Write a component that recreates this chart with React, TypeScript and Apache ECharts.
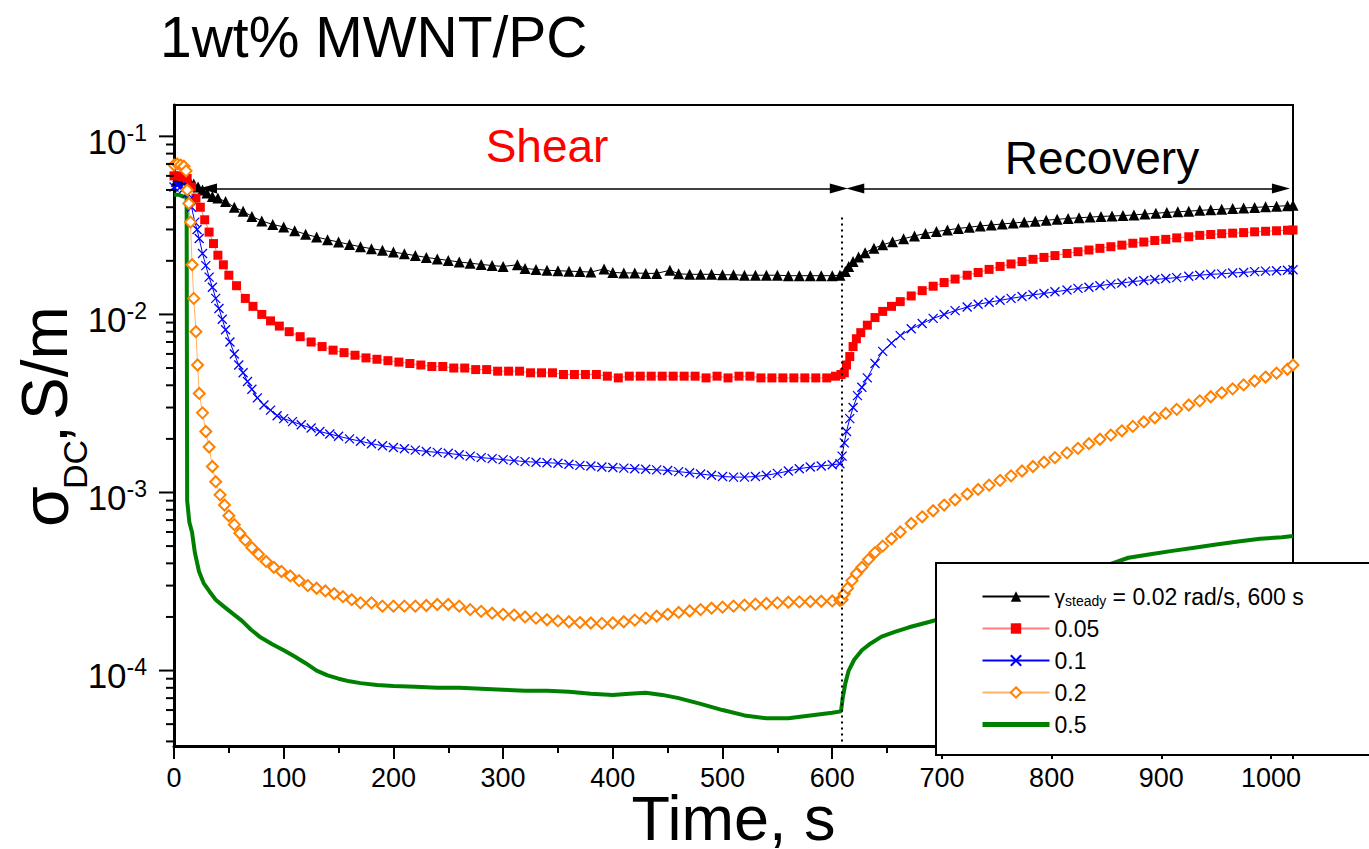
import React, { useEffect, useRef } from 'react';
import * as echarts from 'echarts';

const FONT = '"Liberation Sans", Arial, Helvetica, sans-serif';

const seriesNames = ['0.02', '0.05', '0.1', '0.2', '0.5'];

// [time s, sigma S/m]
const blackStartArtifact: number[][] = [[0.3, 0.000001], [0.8, 0.0186]];
const black: number[][] = [
  [2, 0.056], [5, 0.057], [8, 0.058], [11, 0.057], [14, 0.056], [18, 0.054], [22, 0.052], [26, 0.05],
  [30, 0.048], [35, 0.046], [40, 0.045], [47, 0.043], [55, 0.04], [63, 0.038], [71, 0.0355], [80, 0.0335], [90, 0.032], [100, 0.031],
  [110, 0.0295], [120, 0.0282], [130, 0.0272], [140, 0.0263], [150, 0.0255], [160, 0.0247], [170, 0.024], [180, 0.0234], [190, 0.0229],
  [200, 0.0224], [210, 0.0219], [220, 0.0214], [230, 0.0209], [240, 0.0205], [250, 0.0201], [260, 0.0197], [270, 0.0194], [280, 0.0191],
  [290, 0.0188], [300, 0.0186], [313, 0.019], [320, 0.0181], [330, 0.0179], [340, 0.0177], [350, 0.0176], [360, 0.0175], [370, 0.0174],
  [380, 0.0173], [392, 0.018], [400, 0.0172], [410, 0.0171], [420, 0.0171], [430, 0.017], [440, 0.017], [452, 0.0177], [460, 0.0169],
  [470, 0.0168], [480, 0.0168], [490, 0.0168], [500, 0.0167], [510, 0.0167], [520, 0.0166], [530, 0.0166], [540, 0.0166], [550, 0.0166],
  [560, 0.0165], [570, 0.0165], [580, 0.0165], [590, 0.0165], [600, 0.0165], [607, 0.0166],
  [612, 0.0174], [615, 0.0186], [619, 0.0198], [624, 0.021], [630, 0.0222], [638, 0.0235], [646, 0.0246], [655, 0.0256], [665, 0.0266],
  [675, 0.0276], [685, 0.0285], [695, 0.0292], [705, 0.0298], [715, 0.0304], [725, 0.0309], [735, 0.0314], [745, 0.0318], [755, 0.0322],
  [765, 0.0326], [775, 0.033], [785, 0.0334], [795, 0.0338], [805, 0.0342], [815, 0.0346], [825, 0.0349], [835, 0.0352], [845, 0.0355],
  [855, 0.0357], [865, 0.0359], [875, 0.0362], [885, 0.0366], [895, 0.037], [905, 0.0374], [915, 0.0377], [925, 0.038], [935, 0.0384],
  [945, 0.0387], [955, 0.039], [965, 0.0393], [975, 0.0396], [985, 0.0399], [995, 0.0402], [1005, 0.0405], [1015, 0.0408], [1020, 0.041],
];

const red: number[][] = [
  [0, 0.06], [4, 0.06], [8, 0.059], [12, 0.058], [16, 0.052], [20, 0.045], [24, 0.04], [28, 0.034], [32, 0.029], [36, 0.025], [40, 0.0215],
  [45, 0.019], [50, 0.0166], [57, 0.0145], [65, 0.0123], [72, 0.0111], [80, 0.01], [88, 0.0092], [96, 0.0086], [105, 0.008], [115, 0.0075],
  [125, 0.007], [135, 0.0066], [145, 0.0063], [155, 0.0061], [165, 0.0059], [175, 0.0057], [185, 0.0056], [195, 0.0055], [205, 0.0054],
  [215, 0.0053], [225, 0.0052], [235, 0.0051], [245, 0.0051], [255, 0.005], [265, 0.005], [275, 0.0049], [285, 0.0049], [295, 0.0048],
  [305, 0.0048], [315, 0.0048], [325, 0.0047], [335, 0.0047], [345, 0.0047], [355, 0.0046], [365, 0.0046], [375, 0.0046], [385, 0.0046],
  [395, 0.0045], [405, 0.0044], [415, 0.0045], [425, 0.0045], [435, 0.0045], [445, 0.0045], [455, 0.0045], [465, 0.0045], [475, 0.0045],
  [485, 0.0044], [495, 0.0045], [505, 0.0044], [515, 0.0045], [525, 0.0045], [535, 0.0044], [545, 0.0044], [555, 0.0044], [565, 0.0044],
  [575, 0.0044], [585, 0.0044], [595, 0.0044], [603, 0.0045], [608, 0.0046],
  [611, 0.0047], [613, 0.0052], [616, 0.0058], [619, 0.0066], [622, 0.0073], [626, 0.0079], [632, 0.0087], [639, 0.0096], [646, 0.0104],
  [654, 0.0111], [662, 0.0118], [672, 0.0127], [682, 0.0136], [692, 0.0144], [702, 0.0151], [712, 0.0158], [723, 0.0166], [733, 0.0172],
  [743, 0.0179], [753, 0.0186], [763, 0.0192], [773, 0.0198], [783, 0.0204], [793, 0.0209], [803, 0.0214], [814, 0.022], [824, 0.0225],
  [834, 0.023], [844, 0.0235], [854, 0.024], [864, 0.0245], [874, 0.0251], [884, 0.0255], [894, 0.026], [904, 0.0264], [914, 0.0269],
  [925, 0.0273], [935, 0.0278], [945, 0.0281], [955, 0.0284], [965, 0.0286], [975, 0.0288], [985, 0.0291], [995, 0.0293], [1005, 0.0295],
  [1015, 0.0297], [1020, 0.0298],
];

const blue: number[][] = [
  [0, 0.052], [3, 0.053], [6, 0.052], [9, 0.051], [12, 0.048], [14, 0.044], [16, 0.04], [19, 0.033], [21, 0.03], [23, 0.0267], [26, 0.022],
  [29, 0.0188], [32, 0.0162], [35, 0.0142], [38, 0.0123], [41, 0.0108], [44, 0.0094], [47, 0.0082], [51, 0.007], [55, 0.006], [59, 0.0052],
  [63, 0.0047], [67, 0.0042], [71, 0.0038], [76, 0.0034], [82, 0.0031], [88, 0.0029], [94, 0.0027], [100, 0.0026], [108, 0.0025],
  [116, 0.0024], [125, 0.0023], [133, 0.0022], [142, 0.00213], [150, 0.00207], [160, 0.002], [170, 0.00194], [180, 0.00188], [190, 0.00183],
  [200, 0.00179], [210, 0.00176], [220, 0.00173], [230, 0.0017], [240, 0.00168], [250, 0.00166], [260, 0.00163], [270, 0.0016],
  [280, 0.00157], [290, 0.00155], [300, 0.00153], [310, 0.00151], [320, 0.00149], [330, 0.00148], [340, 0.00147], [350, 0.00146],
  [360, 0.00144], [370, 0.00142], [380, 0.00141], [390, 0.00139], [400, 0.00138], [410, 0.00137], [420, 0.00136], [430, 0.00135],
  [440, 0.00134], [450, 0.00133], [460, 0.00131], [470, 0.00129], [480, 0.00127], [490, 0.00125], [500, 0.00123], [510, 0.00122],
  [520, 0.00122], [530, 0.00123], [540, 0.00125], [550, 0.00128], [560, 0.00132], [570, 0.00136], [580, 0.00139], [590, 0.00141],
  [600, 0.00143], [607, 0.00145],
  [609, 0.0016], [611, 0.0019], [613, 0.0022], [616, 0.0026], [619, 0.003], [623, 0.0035], [627, 0.0039], [632, 0.0044], [639, 0.0053],
  [646, 0.0062], [654, 0.0069], [662, 0.0076], [672, 0.0083], [682, 0.0089], [692, 0.0095], [702, 0.01], [712, 0.0105], [723, 0.011],
  [733, 0.0114], [743, 0.0117], [753, 0.012], [763, 0.0123], [773, 0.0126], [783, 0.0129], [793, 0.0131], [803, 0.0134], [814, 0.0137],
  [824, 0.014], [834, 0.0142], [844, 0.0145], [854, 0.0148], [864, 0.015], [874, 0.0153], [884, 0.0155], [894, 0.0157], [904, 0.0159],
  [914, 0.0161], [925, 0.0164], [935, 0.0166], [945, 0.0168], [955, 0.0169], [965, 0.0171], [975, 0.0172], [985, 0.0174], [995, 0.0175],
  [1005, 0.0176], [1015, 0.0177], [1020, 0.0178],
];

const orange: number[][] = [
  [0, 0.069], [3, 0.07], [6, 0.069], [9, 0.068], [11, 0.064], [12, 0.05], [13.5, 0.042], [15, 0.033], [16.5, 0.019], [18, 0.0123],
  [20, 0.008], [21.5, 0.0052], [23, 0.0036], [26, 0.0028], [29, 0.0022], [32, 0.0018], [35, 0.0014], [38, 0.00115], [42, 0.00097],
  [46, 0.00085], [50, 0.00074], [55, 0.00066], [60, 0.00059], [65, 0.00054], [71, 0.00049], [77, 0.00045], [84, 0.00041], [91, 0.00038],
  [98, 0.00036], [106, 0.00034], [114, 0.00032], [122, 0.0003], [130, 0.00029], [138, 0.00028], [146, 0.00027], [154, 0.00026],
  [162, 0.00025], [170, 0.00024], [180, 0.00024], [190, 0.00023], [200, 0.00023], [210, 0.00023], [220, 0.00023], [230, 0.000232],
  [240, 0.000235], [250, 0.000235], [260, 0.00023], [270, 0.00022], [280, 0.000215], [290, 0.00021], [300, 0.000207], [310, 0.000205],
  [320, 0.0002], [330, 0.000197], [340, 0.000193], [350, 0.00019], [360, 0.000188], [370, 0.000186], [380, 0.000185], [390, 0.000184],
  [400, 0.000185], [410, 0.000188], [420, 0.000192], [430, 0.000197], [440, 0.000202], [450, 0.000207], [460, 0.000212], [470, 0.000216],
  [480, 0.00022], [490, 0.000224], [500, 0.000227], [510, 0.00023], [520, 0.000233], [530, 0.000236], [540, 0.000238], [550, 0.00024],
  [560, 0.000242], [570, 0.000243], [580, 0.000244], [590, 0.000245], [600, 0.000246], [607, 0.000248],
  [609, 0.00025], [611, 0.00027], [614, 0.00029], [618, 0.00032], [622, 0.00035], [627, 0.00038], [633, 0.00042], [639, 0.00046],
  [646, 0.0005], [654, 0.00055], [662, 0.0006], [672, 0.00067], [682, 0.00073], [692, 0.00079], [702, 0.00085], [712, 0.00091],
  [723, 0.00098], [733, 0.00104], [743, 0.0011], [753, 0.00117], [763, 0.00124], [773, 0.00132], [783, 0.0014], [793, 0.00148],
  [803, 0.00157], [814, 0.00167], [824, 0.00177], [834, 0.00188], [844, 0.00199], [854, 0.0021], [864, 0.00222], [874, 0.00235],
  [884, 0.00249], [894, 0.00263], [904, 0.00278], [914, 0.00293], [925, 0.0031], [935, 0.00327], [945, 0.00345], [955, 0.00363],
  [965, 0.00382], [975, 0.00402], [985, 0.00423], [995, 0.00445], [1005, 0.00468], [1015, 0.00492], [1020, 0.0052],
];

const green: number[][] = [
  [0, 0.047], [4, 0.047], [8, 0.046], [11.5, 0.046], [12, 0.0009], [14, 0.00068], [16.4, 0.0006], [19, 0.00046], [22.8, 0.00036],
  [27, 0.00031], [32, 0.00028], [38, 0.00025], [45, 0.00023], [53, 0.00021], [62, 0.00019], [70, 0.00017], [78, 0.000155], [90, 0.00014],
  [100, 0.00013], [110, 0.00012], [120, 0.00011], [130, 0.0001], [140, 0.000094], [150, 0.00009], [160, 0.000087], [170, 0.000085],
  [185, 0.000083], [200, 0.000082], [220, 0.000081], [240, 0.00008], [260, 0.00008], [280, 0.000079], [300, 0.000078], [320, 0.000077],
  [340, 0.000077], [360, 0.000076], [380, 0.000074], [400, 0.000073], [415, 0.000074], [430, 0.000075], [445, 0.000073], [460, 0.00007],
  [480, 0.000065], [500, 0.00006], [520, 0.000056], [540, 0.000054], [560, 0.000054], [580, 0.000056], [600, 0.000058], [608, 0.000059],
  [609.5, 0.00007], [612, 0.000085], [615, 0.0001], [620, 0.000115], [627, 0.00013], [635, 0.000142], [645, 0.000155], [657, 0.000165],
  [670, 0.000175], [689, 0.000188], [710, 0.000205], [730, 0.000225], [750, 0.000245], [770, 0.00027], [790, 0.0003], [810, 0.00033],
  [830, 0.00036], [850, 0.00039], [870, 0.00043], [890, 0.00045], [910, 0.00047], [930, 0.00049], [950, 0.00051], [970, 0.00053],
  [990, 0.00055], [1010, 0.00056], [1020, 0.00057],
];

const yMajorTicks = [1e-4, 1e-3, 1e-2, 1e-1];
const yMinorTicks = [
  4e-5, 5e-5, 6e-5, 7e-5, 8e-5, 9e-5,
  2e-4, 3e-4, 4e-4, 5e-4, 6e-4, 7e-4, 8e-4, 9e-4,
  2e-3, 3e-3, 4e-3, 5e-3, 6e-3, 7e-3, 8e-3, 9e-3,
  2e-2, 3e-2, 4e-2, 5e-2, 6e-2, 7e-2, 8e-2, 9e-2,
];

const shearArrow = [31, 606];
const recoveryArrow = [621, 1009];
const arrowLevel = 0.051;
const stopTime = 609;

const X_MIN = 0;
const X_MAX = 1020;
const Y_MIN = 3.77e-5;
const Y_MAX = 0.15;

export default function App() {
  const ref = useRef<HTMLDivElement>(null);

  useEffect(() => {
    const el = ref.current;
    if (!el) return;
    const chart = echarts.init(el, null, { renderer: 'svg' });

    const tickData = [
      ...yMajorTicks.map((v) => [0, v, 15]),
      ...yMinorTicks.map((v) => [0, v, 8]),
    ];

    const base = {
      type: 'line',
      showAllSymbol: true,
      clip: true,
      silent: true,
      z: 3,
    };

    const option: any = {
      animation: false,
      backgroundColor: '#ffffff',
      textStyle: { fontFamily: FONT },
      grid: {
        left: 174,
        right: 76,
        top: 105,
        bottom: 103,
        show: true,
        borderColor: '#000',
        borderWidth: 2,
        backgroundColor: 'transparent',
        containLabel: false,
        outerBoundsMode: 'none',
      },
      xAxis: {
        type: 'value',
        min: X_MIN,
        max: X_MAX,
        interval: 100,
        name: 'Time, s',
        nameLocation: 'middle',
        nameGap: 47,
        nameMoveOverlap: false,
        nameTextStyle: { fontSize: 63, color: '#000', fontFamily: FONT, lineHeight: 50 },
        axisLine: { show: true, lineStyle: { color: '#000', width: 3 } },
        axisTick: { show: true, inside: false, length: 13, lineStyle: { color: '#000', width: 2 } },
        minorTick: { show: true, splitNumber: 2, length: 7, lineStyle: { color: '#000', width: 2 } },
        axisLabel: {
          fontSize: 27,
          color: '#000',
          margin: 18,
          fontFamily: FONT,
          showMaxLabel: false,
          formatter: (v: number) => String(v),
        },
        splitLine: { show: false },
      },
      yAxis: {
        type: 'log',
        logBase: 10,
        min: Y_MIN,
        max: Y_MAX,
        axisLine: { show: true, lineStyle: { color: '#000', width: 3 } },
        axisTick: { show: false },
        splitLine: { show: false },
        axisLabel: {
          margin: 27,
          color: '#000',
          padding: [10, 0, 0, 0],
          formatter: (v: number) => {
            const l = Math.log10(v);
            const e = Math.round(l);
            if (Math.abs(l - e) > 1e-6) return '';
            return `{b|10}{s|${e}}`;
          },
          rich: {
            b: { fontSize: 35, lineHeight: 40, fontFamily: FONT, color: '#000' },
            s: { fontSize: 23, lineHeight: 20, verticalAlign: 'top', fontFamily: FONT, color: '#000' },
          },
        },
      },
      legend: {
        data: [
          { name: '0.02' },
          { name: '0.05' },
          { name: '0.1' },
          { name: '0.2' },
          { name: '0.5', itemStyle: { color: 'rgba(0,0,0,0)', borderWidth: 0, opacity: 0 }, lineStyle: { width: 5, color: '#008000' } },
        ],
        orient: 'vertical',
        left: 936,
        top: 563,
        padding: [22, 120, 19, 44],
        itemWidth: 67,
        itemHeight: 13,
        itemGap: 9,
        selectedMode: false,
        backgroundColor: '#ffffff',
        borderColor: '#000',
        borderWidth: 2,
        borderRadius: 0,
        z: 10,
        textStyle: {
          fontSize: 23,
          lineHeight: 22,
          color: '#000',
          fontFamily: FONT,
          rich: {
            g: { fontSize: 21, lineHeight: 22, fontFamily: FONT, color: '#000' },
            sub: { fontSize: 14, lineHeight: 2, verticalAlign: 'bottom', fontFamily: FONT, color: '#000' },
            n: { fontSize: 23, lineHeight: 22, fontFamily: FONT, color: '#000' },
          },
        },
        formatter: (name: string) =>
          name === '0.02' ? '{g|γ}{sub|steady}{n| = 0.02 rad/s, 600 s}' : name,
      },
      graphic: [
        {
          type: 'text',
          x: 160,
          y: 37,
          style: { text: '1wt% MWNT/PC', fontSize: 57, fontFamily: FONT, fill: '#000', align: 'left', verticalAlign: 'middle' },
        },
        {
          type: 'text',
          x: 547,
          y: 146,
          style: { text: 'Shear', fontSize: 46, fontFamily: FONT, fill: '#ff0000', align: 'center', verticalAlign: 'middle' },
        },
        {
          type: 'text',
          x: 1102,
          y: 158,
          style: { text: 'Recovery', fontSize: 46, fontFamily: FONT, fill: '#000', align: 'center', verticalAlign: 'middle' },
        },
        {
          type: 'group',
          x: 67,
          y: 527,
          rotation: Math.PI / 2,
          children: [
            { type: 'text', x: 0, y: -22, style: { text: 'σ', fontSize: 66, fontFamily: FONT, fill: '#000', align: 'left', verticalAlign: 'middle' } },
            { type: 'text', x: 38, y: 8, style: { text: 'DC', fontSize: 34, fontFamily: FONT, fill: '#000', align: 'left', verticalAlign: 'middle' } },
            { type: 'text', x: 84, y: -22, style: { text: ',', fontSize: 64, fontFamily: FONT, fill: '#000', align: 'left', verticalAlign: 'middle' } },
            { type: 'text', x: 107, y: -22, style: { text: 'S/m', fontSize: 64, fontFamily: FONT, fill: '#000', align: 'left', verticalAlign: 'middle' } },
          ],
        },
      ],
      series: [
        {
          type: 'line',
          name: 'artifact',
          silent: true,
          clip: true,
          symbol: 'none',
          data: blackStartArtifact,
          lineStyle: { color: '#000', width: 1 },
          z: 2,
        },
        {
          ...base,
          name: '0.02',
          data: black,
          symbol: 'triangle',
          symbolSize: 11,
          lineStyle: { color: '#000', width: 1 },
          itemStyle: { color: '#000' },
          markLine: {
            silent: true,
            symbol: ['triangle', 'triangle'],
            symbolSize: [10, 18],
            label: { show: false },
            lineStyle: { color: '#000', width: 1.5, type: 'solid' },
            data: [
              [{ coord: [shearArrow[0], arrowLevel] }, { coord: [shearArrow[1], arrowLevel] }],
              [{ coord: [recoveryArrow[0], arrowLevel] }, { coord: [recoveryArrow[1], arrowLevel] }],
            ],
          },
        },
        {
          ...base,
          name: '0.05',
          data: red,
          symbol: 'rect',
          symbolSize: 9,
          lineStyle: { color: '#ff7f7f', width: 1 },
          itemStyle: { color: '#ff0000' },
        },
        {
          ...base,
          name: '0.1',
          data: blue,
          symbol: 'path://M0 0L10 10M10 0L0 10',
          symbolSize: 9,
          lineStyle: { color: '#0000ff', width: 1 },
          itemStyle: { color: '#0000ff', borderColor: '#0000ff', borderWidth: 1.3 },
        },
        {
          ...base,
          name: '0.2',
          data: orange,
          symbol: 'emptyDiamond',
          symbolSize: 11,
          lineStyle: { color: '#ffb366', width: 1 },
          itemStyle: { color: '#ff8000', borderColor: '#ff8000', borderWidth: 1 },
        },
        {
          ...base,
          name: '0.5',
          data: green,
          symbol: 'none',
          lineStyle: { color: '#008000', width: 4 },
          itemStyle: { color: '#008000' },
          markLine: {
            silent: true,
            symbol: ['none', 'none'],
            label: { show: false },
            lineStyle: { color: '#000', width: 2, type: [2, 4] },
            data: [[{ coord: [stopTime, 0.035] }, { coord: [stopTime, Y_MIN] }]],
          },
        },
        {
          type: 'custom',
          name: 'yticks',
          silent: true,
          clip: false,
          z: 4,
          data: tickData,
          encode: { x: 0, y: 1 },
          renderItem: (params: any, api: any) => {
            const v = api.value(1);
            const len = api.value(2);
            const p = api.coord([0, v]);
            return {
              type: 'line',
              shape: { x1: p[0] - len, y1: p[1], x2: p[0], y2: p[1] },
              style: { stroke: '#000', lineWidth: 2 },
            };
          },
        },
      ],
    };

    chart.setOption(option);
    return () => chart.dispose();
  }, []);

  return (
    <div
      ref={ref}
      style={{ position: 'fixed', left: 0, top: 0, width: 1369, height: 849, background: '#fff' }}
    />
  );
}
